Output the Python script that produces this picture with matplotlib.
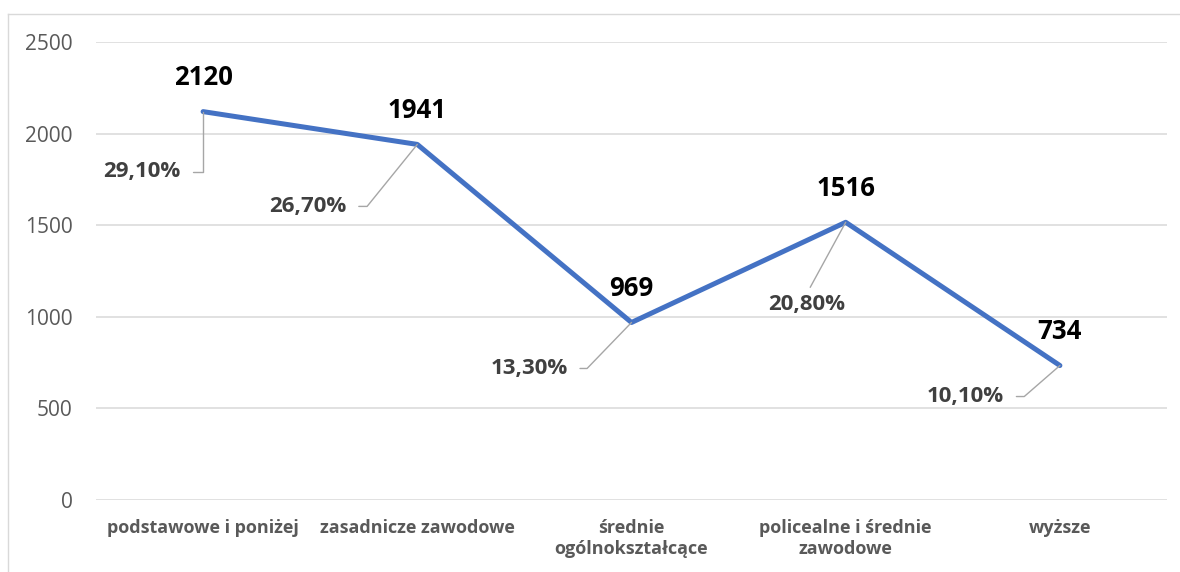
import matplotlib.pyplot as plt
from matplotlib.lines import Line2D

# dane
kategorie = ['podstawowe i poniżej', 'zasadnicze zawodowe', 'średnie\nogólnokształcące',
             'policealne i średnie\nzawodowe', 'wyższe']
liczba = [2120, 1941, 969, 1516, 734]
udzial = [29.1, 26.7, 13.3, 20.8, 10.1]
y_ticks = [0, 500, 1000, 1500, 2000, 2500]

# styl etykiet procentowych: przesunięcie (px) i kąt linii odniesienia
pct_offset = [(-23, -60), (-71, -62), (-64, -46), (-39, -82), (-56, -31)]
pct_angle = [90, 51, 46, None, 41]

plt.rcParams['font.family'] = ['Open Sans', 'DejaVu Sans']

fig = plt.figure(figsize=(11.8, 5.72), dpi=100)
ax = fig.add_axes([96 / 1180, 1 - 500 / 572, (1167 - 96) / 1180, (500 - 42) / 572])

x = list(range(len(kategorie)))
ax.plot(x, liczba, color='#4472C4', lw=3.6, solid_capstyle='round', zorder=3)

# etykiety wartości
for xi, v in zip(x, liczba):
    ax.annotate(str(v), (xi, v), xytext=(0, 34), textcoords='offset pixels',
                ha='center', va='center', fontsize=18.5, fontweight='bold', color='black')

# etykiety procentowe z liniami odniesienia
for xi, v, p, off, ang in zip(x, liczba, udzial, pct_offset, pct_angle):
    txt = f'{p:.2f}%'.replace('.', ',')
    if ang is None:
        ax.annotate(txt, (xi, v), xytext=off, textcoords='offset pixels',
                    ha='center', va='center', fontsize=16, fontweight='bold', color='#404040',
                    arrowprops=dict(arrowstyle='-', color='#a6a6a6', lw=1, relpos=(0.5, 1),
                                    shrinkA=3, shrinkB=0))
    else:
        ax.annotate(txt, (xi, v), xytext=off, textcoords='offset pixels',
                    ha='right', va='center', fontsize=16, fontweight='bold', color='#404040',
                    arrowprops=dict(arrowstyle='-', color='#a6a6a6', lw=1, relpos=(1, 0.5),
                                    shrinkA=7, shrinkB=0,
                                    connectionstyle=f'angle,angleA=0,angleB={ang},rad=0'))

ax.set_xlim(-0.5, len(kategorie) - 0.5)
ax.set_ylim(0, 2500)
ax.set_yticks(y_ticks)
ax.set_xticks(x)
ax.set_xticklabels(kategorie, fontsize=13, fontweight='bold', color='#595959', linespacing=1.2)
ax.tick_params(axis='y', length=0, pad=17, labelsize=15, labelcolor='#595959')
ax.tick_params(axis='x', length=0, pad=14)
ax.grid(axis='y', color='#d9d9d9', lw=1.1)
ax.set_axisbelow(True)
for s in ax.spines.values():
    s.set_visible(False)

# ramka wykresu
fig.add_artist(Line2D([8 / 1180, 8 / 1180], [0, 1 - 14 / 572], color='#d9d9d9', lw=1))
fig.add_artist(Line2D([8 / 1180, 1], [1 - 14 / 572, 1 - 14 / 572], color='#d9d9d9', lw=1))

plt.savefig('out.png', dpi=100)
